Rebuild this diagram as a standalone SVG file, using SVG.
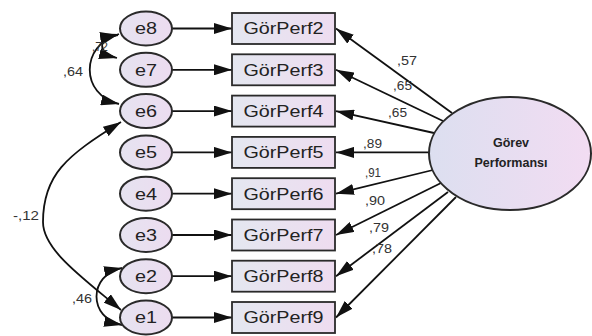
<svg xmlns="http://www.w3.org/2000/svg" width="592" height="336" viewBox="0 0 592 336">
  <defs>
    <linearGradient id="rectFill" x1="0" y1="0" x2="1" y2="0">
      <stop offset="0" stop-color="#e4e7f0"/>
      <stop offset="1" stop-color="#eedcf0"/>
    </linearGradient>
    <linearGradient id="errFill" x1="0" y1="0" x2="1" y2="0">
      <stop offset="0" stop-color="#e6e3f0"/>
      <stop offset="1" stop-color="#ecdcf0"/>
    </linearGradient>
    <linearGradient id="latFill" x1="0" y1="0" x2="1" y2="0">
      <stop offset="0" stop-color="#dcdff0"/>
      <stop offset="1" stop-color="#f2dcf2"/>
    </linearGradient>
    <marker id="head" markerUnits="userSpaceOnUse" markerWidth="18" markerHeight="11" refX="18" refY="5.5" orient="auto-start-reverse">
      <path d="M0,0 L18,5.5 L0,11 z" fill="#111"/>
    </marker>
    <style>
      .conn { fill: none; stroke: #111; stroke-width: 1.8; }
      .arr { marker-end: url(#head); }
      .both { marker-start: url(#head); marker-end: url(#head); }
      .err { fill: url(#errFill); stroke: #2a2a2a; stroke-width: 2; }
      .obs { fill: url(#rectFill); stroke: #2a2a2a; stroke-width: 1.8; }
      .lat { fill: url(#latFill); stroke: #2a2a2a; stroke-width: 2; }
      .lbl { font-family: "Liberation Sans", Arial, sans-serif; font-size: 16px; fill: #222; text-anchor: middle; }
      .latlbl { font-family: "Liberation Sans", Arial, sans-serif; font-size: 12.5px; font-weight: bold; fill: #222; text-anchor: middle; }
      .num { font-family: "Liberation Sans", Arial, sans-serif; font-size: 12.5px; fill: #333; }
    </style>
  </defs>

  <rect width="592" height="336" fill="#ffffff"/>

  <!-- connectors -->
  <g id="connectors">
    <!-- error terms to indicators -->
    <line class="conn arr" x1="172" y1="28.5" x2="232" y2="28.5"/>
    <line class="conn arr" x1="172" y1="69.8" x2="232" y2="69.8"/>
    <line class="conn arr" x1="172" y1="111.1" x2="232" y2="111.1"/>
    <line class="conn arr" x1="172" y1="152.4" x2="232" y2="152.4"/>
    <line class="conn arr" x1="172" y1="193.7" x2="232" y2="193.7"/>
    <line class="conn arr" x1="172" y1="235" x2="232" y2="235"/>
    <line class="conn arr" x1="172" y1="276.2" x2="232" y2="276.2"/>
    <line class="conn arr" x1="172" y1="317.5" x2="232" y2="317.5"/>
    <!-- factor loadings -->
    <line class="conn arr" x1="452" y1="113" x2="336" y2="28.5"/>
    <line class="conn arr" x1="443" y1="121" x2="336" y2="69.8"/>
    <line class="conn arr" x1="434" y1="133" x2="336" y2="111.1"/>
    <line class="conn arr" x1="430" y1="152.4" x2="336" y2="152.4"/>
    <line class="conn arr" x1="433" y1="170" x2="336" y2="193.7"/>
    <line class="conn arr" x1="441" y1="183" x2="336" y2="235"/>
    <line class="conn arr" x1="448" y1="192" x2="336" y2="276.2"/>
    <line class="conn arr" x1="456" y1="197" x2="336" y2="317.5"/>
    <!-- error covariances -->
    <path class="conn both" d="M118,35 C97,38 97,53 117,58"/>
    <path class="conn both" d="M119,34 C80,45 80,95 119,104"/>
    <path class="conn both" d="M121,122 C66,156 43,175 43,222 C43,250 83,278 121,310"/>
    <path class="conn both" d="M122,268 C88,275 88,318 122,325"/>
  </g>

  <!-- error terms -->
  <g id="e8"><ellipse class="err" cx="146" cy="28.5" rx="26" ry="17"/><text class="lbl" x="146" y="34.3" textLength="22" lengthAdjust="spacingAndGlyphs">e8</text></g>
  <g id="e7"><ellipse class="err" cx="146" cy="69.8" rx="26" ry="17"/><text class="lbl" x="146" y="75.6" textLength="22" lengthAdjust="spacingAndGlyphs">e7</text></g>
  <g id="e6"><ellipse class="err" cx="146" cy="111.1" rx="26" ry="17"/><text class="lbl" x="146" y="116.9" textLength="22" lengthAdjust="spacingAndGlyphs">e6</text></g>
  <g id="e5"><ellipse class="err" cx="146" cy="152.4" rx="26" ry="17"/><text class="lbl" x="146" y="158.2" textLength="22" lengthAdjust="spacingAndGlyphs">e5</text></g>
  <g id="e4"><ellipse class="err" cx="146" cy="193.7" rx="26" ry="17"/><text class="lbl" x="146" y="199.5" textLength="22" lengthAdjust="spacingAndGlyphs">e4</text></g>
  <g id="e3"><ellipse class="err" cx="146" cy="235" rx="26" ry="17"/><text class="lbl" x="146" y="240.8" textLength="22" lengthAdjust="spacingAndGlyphs">e3</text></g>
  <g id="e2"><ellipse class="err" cx="146" cy="276.2" rx="26" ry="17"/><text class="lbl" x="146" y="282" textLength="22" lengthAdjust="spacingAndGlyphs">e2</text></g>
  <g id="e1"><ellipse class="err" cx="146" cy="317.5" rx="26" ry="17"/><text class="lbl" x="146" y="323.3" textLength="22" lengthAdjust="spacingAndGlyphs">e1</text></g>

  <!-- observed indicators -->
  <g id="GorPerf2"><rect class="obs" x="232" y="13" width="103" height="31"/><text class="lbl" x="283.5" y="34.3" textLength="80" lengthAdjust="spacingAndGlyphs">GörPerf2</text></g>
  <g id="GorPerf3"><rect class="obs" x="232" y="54.3" width="103" height="31"/><text class="lbl" x="283.5" y="75.6" textLength="80" lengthAdjust="spacingAndGlyphs">GörPerf3</text></g>
  <g id="GorPerf4"><rect class="obs" x="232" y="95.6" width="103" height="31"/><text class="lbl" x="283.5" y="116.9" textLength="80" lengthAdjust="spacingAndGlyphs">GörPerf4</text></g>
  <g id="GorPerf5"><rect class="obs" x="232" y="136.9" width="103" height="31"/><text class="lbl" x="283.5" y="158.2" textLength="80" lengthAdjust="spacingAndGlyphs">GörPerf5</text></g>
  <g id="GorPerf6"><rect class="obs" x="232" y="178.2" width="103" height="31"/><text class="lbl" x="283.5" y="199.5" textLength="80" lengthAdjust="spacingAndGlyphs">GörPerf6</text></g>
  <g id="GorPerf7"><rect class="obs" x="232" y="219.5" width="103" height="31"/><text class="lbl" x="283.5" y="240.8" textLength="80" lengthAdjust="spacingAndGlyphs">GörPerf7</text></g>
  <g id="GorPerf8"><rect class="obs" x="232" y="260.7" width="103" height="31"/><text class="lbl" x="283.5" y="282" textLength="80" lengthAdjust="spacingAndGlyphs">GörPerf8</text></g>
  <g id="GorPerf9"><rect class="obs" x="232" y="302" width="103" height="31"/><text class="lbl" x="283.5" y="323.3" textLength="80" lengthAdjust="spacingAndGlyphs">GörPerf9</text></g>

  <!-- latent factor -->
  <g id="GorevPerformansi">
    <ellipse class="lat" cx="510" cy="153.5" rx="81" ry="56.5"/>
    <text class="latlbl" x="511" y="147">Görev</text>
    <text class="latlbl" x="511" y="167">Performansı</text>
  </g>

  <!-- estimates -->
  <g id="estimates">
    <text class="num" x="397" y="65" textLength="20" lengthAdjust="spacingAndGlyphs">,57</text>
    <text class="num" x="393" y="90" textLength="19" lengthAdjust="spacingAndGlyphs">,65</text>
    <text class="num" x="388" y="117" textLength="19" lengthAdjust="spacingAndGlyphs">,65</text>
    <text class="num" x="363" y="148" textLength="19" lengthAdjust="spacingAndGlyphs">,89</text>
    <text class="num" x="365" y="177" textLength="16" lengthAdjust="spacingAndGlyphs">,91</text>
    <text class="num" x="365" y="205" textLength="20" lengthAdjust="spacingAndGlyphs">,90</text>
    <text class="num" x="369" y="232" textLength="20" lengthAdjust="spacingAndGlyphs">,79</text>
    <text class="num" x="372" y="253" textLength="20" lengthAdjust="spacingAndGlyphs">,78</text>
    <text class="num" x="92" y="51" textLength="16" lengthAdjust="spacingAndGlyphs">,72</text>
    <text class="num" x="63" y="76" textLength="20" lengthAdjust="spacingAndGlyphs">,64</text>
    <text class="num" x="13" y="220" textLength="26" lengthAdjust="spacingAndGlyphs">-,12</text>
    <text class="num" x="72" y="303" textLength="20" lengthAdjust="spacingAndGlyphs">,46</text>
  </g>
</svg>
